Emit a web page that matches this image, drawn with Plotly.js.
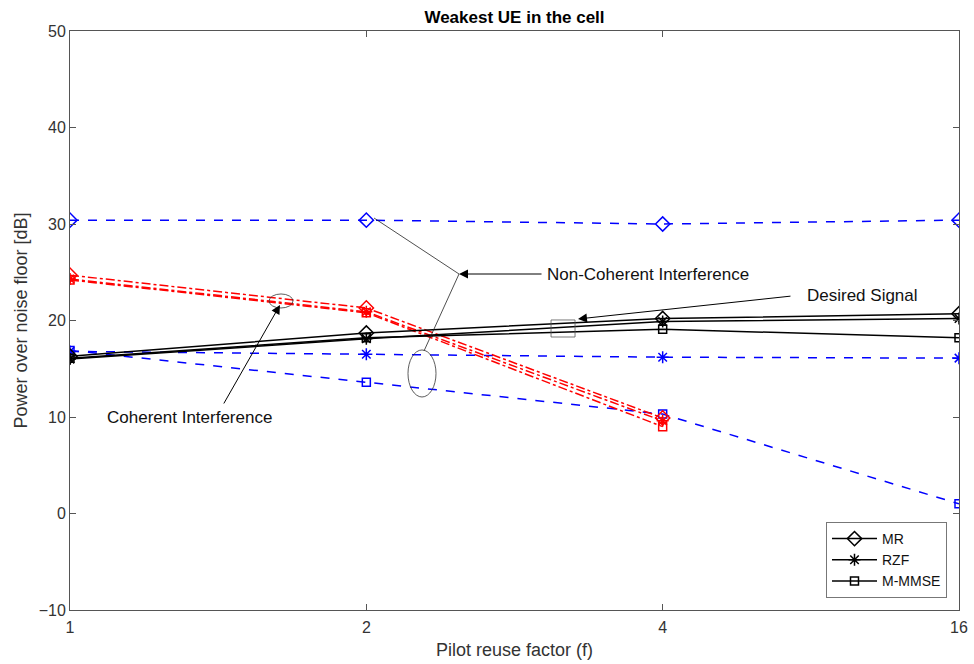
<!DOCTYPE html>
<html>
<head>
<meta charset="utf-8">
<script src="https://cdn.plot.ly/plotly-3.0.1.min.js"></script>
<style>html,body{margin:0;padding:0;background:#fff}</style>
</head>
<body>
<div id="chart" style="width:974px;height:664px"></div>
<script>
// Pilot reuse factor categories
var reuseFactors = ['1', '2', '4', '16'];

// Desired signal (solid black)
var desiredMR    = [16.3, 18.7, 20.2, 20.7];
var desiredRZF   = [16.0, 18.1, 19.9, 20.2];
var desiredMMMSE = [16.1, 18.2, 19.1, 18.2];

// Coherent interference (red dash-dot), absent at f = 16
var coherentMR    = [24.7, 21.3, 9.9, null];
var coherentRZF   = [24.3, 20.9, 9.6, null];
var coherentMMMSE = [24.2, 20.8, 9.0, null];

// Non-coherent interference (blue dashed)
var noncohMR    = [30.4, 30.4, 30.0, 30.4];
var noncohRZF   = [16.8, 16.5, 16.2, 16.1];
var noncohMMMSE = [16.9, 13.6, 10.3, 1.0];

var seriesNames = ['MR', 'RZF', 'M-MMSE'];
var symbols = ['diamond-open', 'asterisk-open', 'square-open'];
var markerSizes = [11, 10, 8];

var FONT = 'Liberation Sans, Arial, Helvetica, sans-serif';
var BLACK = '#000000', RED = '#ff0000', BLUE = '#0000ff';

function mk(y, i, color, dash, legend) {
  return {
    x: reuseFactors, y: y, type: 'scatter', mode: 'lines+markers',
    name: seriesNames[i], showlegend: legend, connectgaps: false,
    line: {color: color, width: 1.5, dash: dash},
    marker: {symbol: symbols[i], size: markerSizes[i], color: color,
             line: {color: color, width: 1.5}}
  };
}

var traces = [
  mk(noncohMR, 0, BLUE, 'dash', false),
  mk(noncohRZF, 1, BLUE, 'dash', false),
  mk(noncohMMMSE, 2, BLUE, 'dash', false),
  mk(coherentMR, 0, RED, 'dashdot', false),
  mk(coherentRZF, 1, RED, 'dashdot', false),
  mk(coherentMMMSE, 2, RED, 'dashdot', false),
  mk(desiredMR, 0, BLACK, 'solid', true),
  mk(desiredRZF, 1, BLACK, 'solid', true),
  mk(desiredMMMSE, 2, BLACK, 'solid', true)
];

var axisCommon = {
  showgrid: false, zeroline: false, showline: true, linecolor: '#555555', linewidth: 1,
  ticks: 'inside', ticklen: 6, tickcolor: '#555555', mirror: 'ticks',
  tickfont: {family: FONT, size: 16, color: '#333333'}
};

var annColor = '#000000';
var annFont = {family: FONT, size: 17, color: '#111'};
var layout = {
  width: 974, height: 664,
  margin: {l: 70, r: 15, t: 31, b: 54},
  paper_bgcolor: '#ffffff', plot_bgcolor: '#ffffff',
  font: {family: FONT, color: '#222222'},
  title: {text: '<b>Weakest UE in the cell</b>', font: {family: FONT, size: 17, color: '#000'},
          x: 0.5, xref: 'paper', xanchor: 'center', y: 1 - 17 / 664, yanchor: 'middle'},
  xaxis: Object.assign({}, axisCommon, {
    type: 'category', range: [0, 3], ticklabelstandoff: 3,
    title: {text: 'Pilot reuse factor (f)', font: {family: FONT, size: 18, color: '#333'}, standoff: 8}
  }),
  yaxis: Object.assign({}, axisCommon, {
    range: [-10, 50], dtick: 10,
    title: {text: 'Power over noise floor [dB]', font: {family: FONT, size: 18, color: '#333'}, standoff: 6}
  }),
  legend: {
    x: 0.9865, xanchor: 'right', y: 0.0207, yanchor: 'bottom',
    bgcolor: '#ffffff', bordercolor: '#777777', borderwidth: 1,
    font: {family: FONT, size: 14, color: '#111'},
    tracegroupgap: 0, itemwidth: 45
  },
  shapes: [
    {type: 'circle', xref: 'paper', yref: 'paper', x0: 0.2239, x1: 0.2508, y0: 0.5216, y1: 0.5458,
     line: {color: '#333', width: 0.8}},
    {type: 'circle', xref: 'paper', yref: 'paper', x0: 0.3802, x1: 0.4117, y0: 0.3679, y1: 0.4491,
     line: {color: '#333', width: 0.8}},
    {type: 'rect', xref: 'paper', yref: 'paper', x0: 0.5411, x1: 0.5681, y0: 0.4715, y1: 0.5009,
     line: {color: '#555', width: 0.8}},
    {type: 'line', xref: 'paper', yref: 'paper', x0: 0.3420, y0: 0.6770, x1: 0.4376, y1: 0.5803,
     line: {color: '#222', width: 0.8}},
    {type: 'line', xref: 'paper', yref: 'paper', x0: 0.4376, y0: 0.5803, x1: 0.3982, y1: 0.4473,
     line: {color: '#222', width: 0.8}}
  ],
  annotations: [
    {xref: 'paper', yref: 'paper', x: 0.1339, y: 0.3333, xanchor: 'center', yanchor: 'middle',
     text: 'Coherent Interference', showarrow: false, font: annFont},
    {xref: 'paper', yref: 'paper', x: 0.6502, y: 0.5803, xanchor: 'center', yanchor: 'middle',
     text: 'Non-Coherent Interference', showarrow: false, font: annFont},
    {xref: 'paper', yref: 'paper', x: 0.8909, y: 0.5440, xanchor: 'center', yanchor: 'middle',
     text: 'Desired Signal', showarrow: false, font: annFont},
    {xref: 'paper', yref: 'paper', x: 0.2362, y: 0.5268, ax: -57, ay: 100, text: '', showarrow: true,
     arrowhead: 2, arrowsize: 1.8, arrowwidth: 1, arrowcolor: annColor},
    {xref: 'paper', yref: 'paper', x: 0.4376, y: 0.5803, ax: 84, ay: 0, text: '', showarrow: true,
     arrowhead: 2, arrowsize: 1.8, arrowwidth: 1, arrowcolor: annColor},
    {xref: 'paper', yref: 'paper', x: 0.5714, y: 0.5026, ax: 214, ay: -23, text: '', showarrow: true,
     arrowhead: 2, arrowsize: 1.8, arrowwidth: 1, arrowcolor: annColor}
  ]
};

Plotly.newPlot('chart', traces, layout, {displayModeBar: false, staticPlot: true});
</script>
</body>
</html>
